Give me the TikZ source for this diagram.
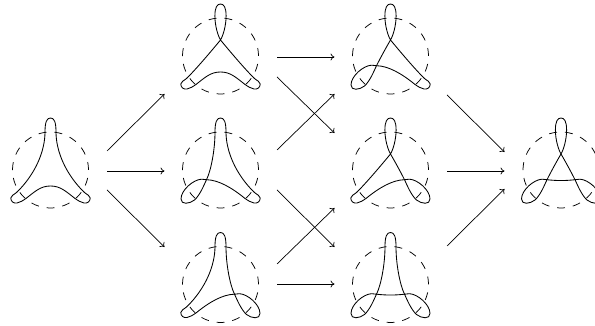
\documentclass[tikz,border=0pt]{standalone}
\usetikzlibrary{arrows.meta}
\tikzset{
  knotline/.style={line width=0.85pt,line join=round,line cap=round},
  ring/.style={line width=0.75pt,dash pattern=on 7.96pt off 7.96pt},
  flow/.style={line width=0.7pt,-{To[length=4pt,width=7pt]}}
}
\newcommand{\sidearc}[2]{% t bit, side bit
  \ifcase\numexpr2*#1+#2\relax
    \draw[knotline] (-5.5,38) .. controls (-5.5,19) and (-15,-4) .. (-33.7,-22.3);
  \or
    \draw[knotline] (-5.5,38) .. controls (-5.5,20) and (-9.5,-0.5) .. (-14,-9.7);
  \or
    \draw[knotline] (0,16) .. controls (-7.5,7) and (-22,-10.5) .. (-33.7,-22.3);
  \or
    \draw[knotline] (0,16) .. controls (-4.5,8.3) and (-9.7,-1.2) .. (-14,-9.7);
  \fi}
\newcommand{\sidelobe}[1]{%
  \ifnum#1=0
    \draw[knotline] (-33.7,-22.3) .. controls (-36.5,-24.8) and (-39.7,-25.5) .. (-39.7,-28)
      .. controls (-39.7,-31.5) and (-37,-33.6) .. (-33.5,-33)
      .. controls (-30.5,-32.5) and (-27.5,-30.6) .. (-24.3,-28.3);
  \else
    \draw[knotline] (-14,-9.7) .. controls (-16.5,-15) and (-20.5,-25) .. (-26,-30)
      .. controls (-31,-34) and (-39.5,-35) .. (-39.5,-29)
      .. controls (-39.5,-20) and (-27,-9.5) .. (-19,-9.2)
      .. controls (-17,-9.2) and (-16,-9.4) .. (-14,-9.7);
  \fi}
\newcommand{\knotfig}[5]{% cx, cy(image), t, l, r
  \begin{scope}[shift={(#1,326-#2)}]
    \draw[ring] (264:38) arc (264:624:38);
    \ifnum#3=0
      \draw[knotline] (-5.5,38) .. controls (-5.5,48.5) and (-3.5,52) .. (0,52)
        .. controls (3.5,52) and (5.5,48.5) .. (5.5,38);
    \else
      \draw[knotline] (0,16) .. controls (2.5,20.3) and (5.6,30) .. (5.6,40)
        .. controls (5.6,48.5) and (3.5,52) .. (0,52)
        .. controls (-3.5,52) and (-5.6,48.5) .. (-5.6,40)
        .. controls (-5.6,30) and (-2.5,20.3) .. (0,16);
    \fi
    \sidearc{#3}{#4}
    \sidelobe{#4}
    \begin{scope}[x=-1pt]\sidearc{#3}{#5}\sidelobe{#5}\end{scope}
    \ifcase\numexpr2*#4+#5\relax
      \draw[knotline] (-24.3,-28.3) .. controls (-15.5,-21.5) and (-10,-16) .. (0,-16)
        .. controls (10,-16) and (15.5,-21.5) .. (24.3,-28.3);
    \or
      \draw[knotline] (-24.3,-28.3) .. controls (-11,-17.5) and (2,-10) .. (14,-9.7);
    \or
      \draw[knotline] (-14,-9.7) .. controls (-2,-10) and (11,-17.5) .. (24.3,-28.3);
    \or
      \draw[knotline] (-14,-9.7) .. controls (-5,-10.8) and (5,-10.8) .. (14,-9.7);
    \fi
  \end{scope}}
\begin{document}
\begin{tikzpicture}[x=1pt,y=1pt]
  \useasboundingbox (0,0) rectangle (595,326);
  \clip (0,0) rectangle (595,326);
  \knotfig{50.5}{170}{0}{0}{0}
  \knotfig{220.5}{56}{1}{0}{0}
  \knotfig{220.5}{170}{0}{1}{0}
  \knotfig{220.5}{284.5}{0}{0}{1}
  \knotfig{390.5}{56}{1}{1}{0}
  \knotfig{390.5}{170}{1}{0}{1}
  \knotfig{390.5}{284.5}{0}{1}{1}
  \knotfig{561}{170}{1}{1}{1}
  \foreach \n/\xa/\ya/\xb/\yb in {
    a/107/151/164.5/94, b/107/171/164.5/171, c/107/190/164.5/247,
    d/277/57/334.5/57, e/277/77/334.5/133, f/277/150/334.5/94,
    g/277/190/334.5/247, h/277/264/334.5/208, i/277/284/334.5/284,
    j/447/95/504.5/152, k/447/171/504.5/171, l/447/246/504.5/189}{
    \coordinate (s\n) at (\xa,326-\ya);
    \coordinate (t\n) at (\xb,326-\yb);
    \draw[flow] (s\n) -- (t\n);
  }
\end{tikzpicture}
\end{document}
